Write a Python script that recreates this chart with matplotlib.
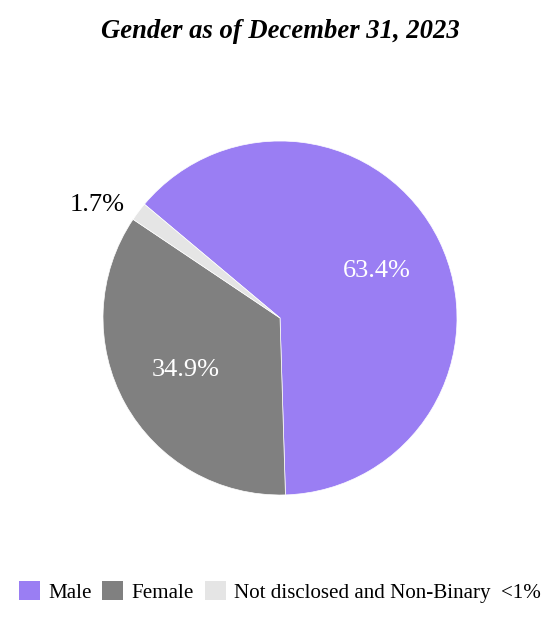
import numpy as np
import matplotlib
matplotlib.use("Agg")
import matplotlib.pyplot as plt
from matplotlib.patches import Patch

plt.rcParams["font.family"] = ["Liberation Serif", "DejaVu Serif"]

LABELS = ["Male", "Female", "Not disclosed and Non-Binary  <1%"]
SHARES = [63.4, 34.9, 1.7]
COLORS = ["#9a7ef3", "#808080", "#e5e5e5"]
TITLE = "Gender as of December 31, 2023"


def main():
    W, H = 560, 620
    fig = plt.figure(figsize=(W / 100, H / 100), dpi=100)
    cx, cy, r = 280, 318, 177
    ax = fig.add_axes([(cx - r) / W, (H - cy - r) / H, 2 * r / W, 2 * r / H])

    wedges, texts, pcts = ax.pie(
        SHARES, colors=COLORS, startangle=140, counterclock=False,
        autopct="%.1f%%", pctdistance=0.61, radius=1,
        wedgeprops=dict(edgecolor="white", linewidth=0.5),
        textprops=dict(fontsize=19, color="white"))
    # small slice: label sits outside in black, right-aligned to its wedge
    w = wedges[2]
    mid = np.deg2rad((w.theta1 + w.theta2) / 2)
    pcts[2].set_position((1.10 * np.cos(mid), 1.10 * np.sin(mid) - 0.02))
    pcts[2].set_ha("right")
    pcts[2].set_color("black")
    pcts[2].set_clip_on(False)

    ax.set_xlim(-1, 1)
    ax.set_ylim(-1, 1)
    ax.set_aspect("equal")
    ax.axis("off")

    fig.text(0.5, 1 - 31 / H, TITLE, ha="center", va="center",
             fontsize=19.2, fontweight="bold", fontstyle="italic")

    handles = [Patch(facecolor=c, edgecolor="none") for c in COLORS]
    fig.legend(handles, LABELS, loc="center", bbox_to_anchor=(0.5, 1 - 592 / H),
               ncol=3, frameon=False, fontsize=15.1, handlelength=1.0,
               handleheight=1.0, handletextpad=0.4, columnspacing=0.5)

    fig.savefig("out.png", dpi=100)


if __name__ == "__main__":
    main()
